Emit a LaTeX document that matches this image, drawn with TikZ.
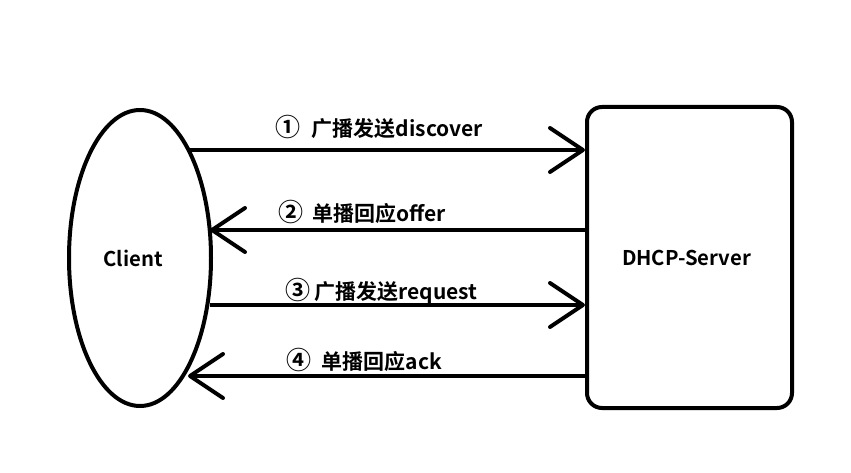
\documentclass[tikz,border=0pt]{standalone}
\usepackage{fontspec}
\setmainfont{Noto Sans CJK SC}[BoldFont={Noto Sans CJK SC Bold}]
\usetikzlibrary{arrows.meta,calc,shapes.geometric}
\newcommand{\circnum}[1]{{\fontsize{25}{22}\selectfont #1}}
\begin{document}
\begin{tikzpicture}[x=1pt,y=-1pt,
  shapeline/.style={draw=black,line width=4pt},
  conn/.style={line width=4pt,-{Straight Barb[length=33pt,width=44pt,line width=4pt,round]}},
  nodetext/.style={font=\fontsize{20.3}{22}\selectfont\bfseries,inner sep=0pt},
  lbl/.style={font=\fontsize{21}{22}\selectfont\bfseries,inner sep=0pt}]
\useasboundingbox[fill=white] (0,0) rectangle (851,473);
\node[shapeline,ellipse,minimum width=142pt,minimum height=296pt,nodetext] (client) at (140,258) {\hspace{-14pt}Client};
\node[shapeline,rectangle,rounded corners=15pt,minimum width=205pt,minimum height=301pt,nodetext] (server) at (689.5,257.5) {\hspace{-6pt}DHCP-Server};
\coordinate (c1) at (188,150);
\coordinate (c2) at (210,230);
\coordinate (c3) at (210,305);
\coordinate (c4) at (188,376);
\draw[conn] (c1) -- (server.west |- c1);
\draw[conn] (server.west |- c2) -- (c2);
\draw[conn] (c3) -- (server.west |- c3);
\draw[conn] (server.west |- c4) -- (c4);
\node[lbl,anchor=west] (l1) at (275,127) {\circnum{①}\hspace{0.55em}广播发送discover};
\node[lbl,anchor=west] (l2) at (278,212) {\circnum{②}\hspace{0.45em}单播回应offer};
\node[lbl,anchor=west] (l3) at (285,291) {\circnum{③}\hspace{0.2em}广播发送request};
\node[lbl,anchor=west] (l4) at (286,360) {\circnum{④}\hspace{0.5em}单播回应ack};
\end{tikzpicture}
\end{document}
